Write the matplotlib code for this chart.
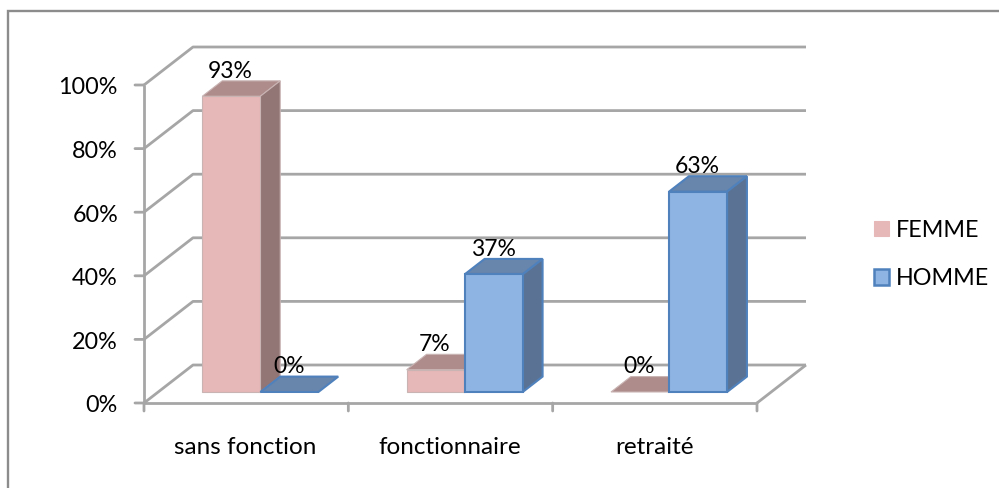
import matplotlib
matplotlib.use('Agg')
import matplotlib.pyplot as plt
from matplotlib.lines import Line2D
from matplotlib.patches import Patch

plt.rcParams['font.family'] = ['Lato', 'DejaVu Sans']

categories = ['sans fonction', 'fonctionnaire', 'retraité']
femme = [93, 7, 0]
homme = [0, 37, 63]
y_ticks = [0, 20, 40, 60, 80, 100]

W, H = 999, 488
# plot box in pixels: front plane of the 3D chart
LEFT, RIGHT, BOTTOM, TOP = 144, 757, 403, 85

# oblique projection, in data units
DEPTH_X = 49 / ((RIGHT - LEFT) / 3)
DEPTH_Y = 38 / ((BOTTOM - TOP) / 100)
BAR_W = 0.284
D_FRONT, D_BACK = 0.29, 0.695

GRID = '#a6a6a6'
PINK = dict(front='#e6b8b7', side='#927575', top='#ae8c8b', edge='#c9b3b3')
BLUE = dict(front='#8eb4e3', side='#5a7394', top='#6885ab', edge='#4f81bd')


def proj(x, y, d):
    return x + d * DEPTH_X, y + d * DEPTH_Y


def face(ax, pts, color, edge, lw, z):
    xs, ys = zip(*[proj(*p) for p in pts])
    ax.fill(xs, ys, facecolor=color, edgecolor=edge, linewidth=lw, zorder=z,
            joinstyle='miter', clip_on=False)


def bar3d(ax, x0, val, col, lw, z):
    x1 = x0 + BAR_W
    # top, side, then front so the front stays on top
    face(ax, [(x0, val, D_FRONT), (x1, val, D_FRONT), (x1, val, D_BACK), (x0, val, D_BACK)],
         col['top'], col['edge'], lw, z)
    if val > 0:
        face(ax, [(x1, 0, D_FRONT), (x1, val, D_FRONT), (x1, val, D_BACK), (x1, 0, D_BACK)],
             col['side'], col['edge'], lw, z)
        face(ax, [(x0, 0, D_FRONT), (x1, 0, D_FRONT), (x1, val, D_FRONT), (x0, val, D_FRONT)],
             col['front'], col['edge'], lw, z + 1)
    fx, fy = proj(x0 + BAR_W / 2, val, D_FRONT)
    ax.annotate(f'{val}%', (fx, fy), xytext=(-0.5, 18), textcoords='offset points',
                ha='center', va='center', fontsize=16.5, color='black', zorder=20,
                annotation_clip=False)


fig = plt.figure(figsize=(W / 100, H / 100), dpi=100)
ax = fig.add_axes([LEFT / W, 1 - BOTTOM / H, (RIGHT - LEFT) / W, (BOTTOM - TOP) / H])
ax.set_xlim(0, 3)
ax.set_ylim(0, 100)
ax.axis('off')

# frame only on the top and left, running off the page
fig.add_artist(Line2D([1, 8 / W, 8 / W], [1 - 11 / H, 1 - 11 / H, 0], transform=fig.transFigure,
                      color='#8c8c8c', linewidth=1.7, solid_joinstyle='miter'))

line = dict(color=GRID, linewidth=2, clip_on=False, solid_capstyle='butt', zorder=1)

# wall gridlines and the floor edges
for t in y_ticks:
    bx, by = proj(0, t, 1)
    ex, ey = proj(3, t, 1)
    ax.plot([0, bx, ex], [t, by, ey], **line)
ex, ey = proj(3, 0, 1)
ax.plot([3, ex], [0, ey], **line)
ax.plot([0, 3], [0, 0], **line)
ax.plot([0, 0], [0, 100], **line)

# tick marks and axis labels
for t in y_ticks:
    ax.annotate('', (0, t), xytext=(-9, 0), textcoords='offset pixels',
                arrowprops=dict(arrowstyle='-', color=GRID, lw=2, shrinkA=0, shrinkB=0))
    ax.annotate(f'{t}%', (0, t), xytext=(-26, -3), textcoords='offset pixels', ha='right',
                va='center', fontsize=16.8, annotation_clip=False)
for i in range(len(categories) + 1):
    ax.annotate('', (i, 0), xytext=(0, -8), textcoords='offset pixels',
                arrowprops=dict(arrowstyle='-', color=GRID, lw=2, shrinkA=0, shrinkB=0))
for i, c in enumerate(categories):
    ax.annotate(c, (i + 0.5, 0), xytext=(-0.5, -44), textcoords='offset pixels', ha='center',
                va='center', fontsize=17.5, annotation_clip=False)

for i in range(len(categories)):
    x_left = i + 0.5 - BAR_W
    bar3d(ax, x_left, femme[i], PINK, 0.8, 5)
    bar3d(ax, x_left + BAR_W, homme[i], BLUE, 1.5, 7)

handles = [Patch(facecolor=PINK['front'], edgecolor=PINK['front'], linewidth=0.8),
           Patch(facecolor=BLUE['front'], edgecolor=BLUE['edge'], linewidth=1.8)]
fig.legend(handles, ['FEMME', 'HOMME'], loc='center left', bbox_to_anchor=(874 / W, 1 - 254.5 / H),
           frameon=False, fontsize=16.8, handlelength=0.64, handleheight=0.64, handletextpad=0.3,
           labelspacing=1.17, borderpad=0, borderaxespad=0)

fig.savefig('out.png', dpi=100)
